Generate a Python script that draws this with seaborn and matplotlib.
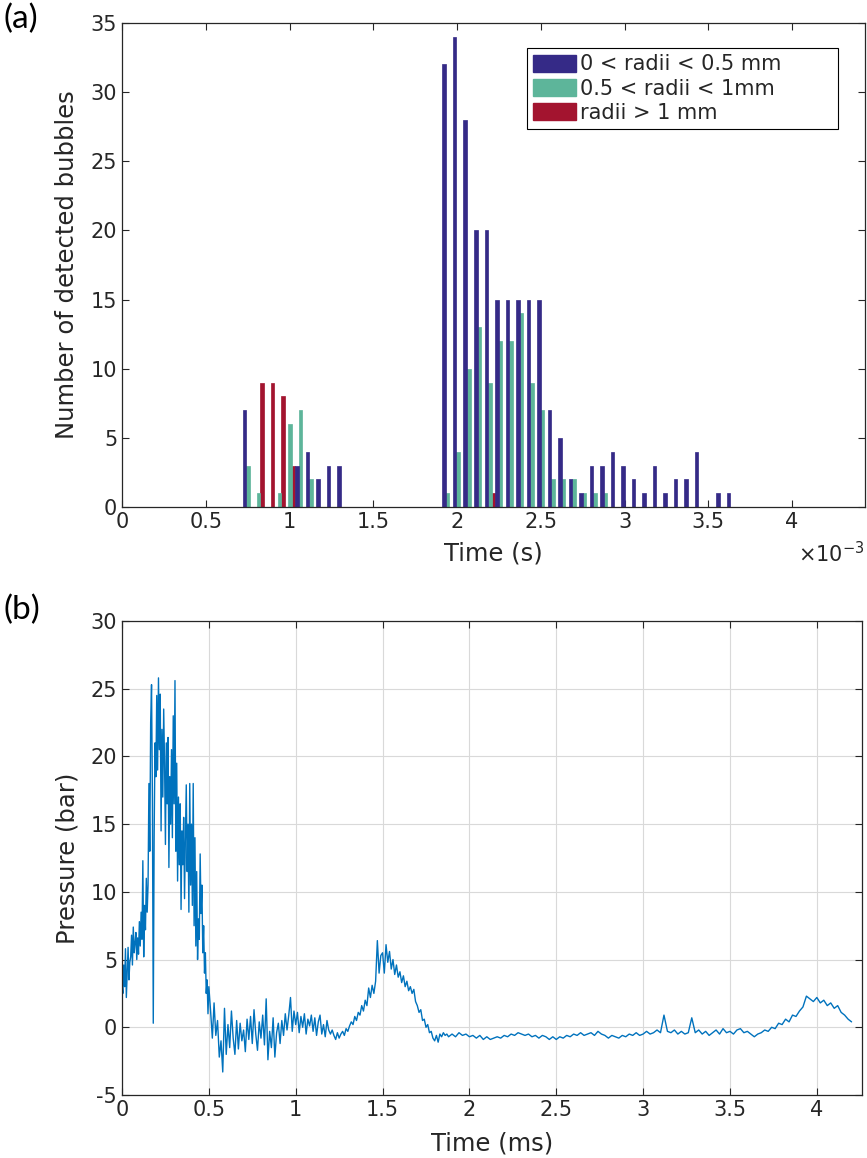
import numpy as np
import pandas as pd
import seaborn as sns
import matplotlib.pyplot as plt
from matplotlib.patches import Patch

# ---------------- panel (a): detected bubbles per time bin ----------------
bin_start = 0.751e-3      # centre of first bin (s)
bin_width = 0.0628e-3     # bin width (s)
n_bins = 47
small = [7, 0, 0, 0, 0, 3, 4, 2, 3, 3,
         0, 0, 0, 0, 0, 0, 0, 0, 0,
         32, 34, 28, 20, 20, 15, 15, 15, 15, 15,
         7, 5, 2, 1, 3, 3, 4, 3, 2, 1, 3, 1, 2, 2, 4, 0, 1, 1]
medium = [3, 1, 0, 1, 6, 7, 2, 0, 0, 0,
          0, 0, 0, 0, 0, 0, 0, 0, 0,
          1, 4, 10, 13, 9, 12, 12, 14, 9, 7,
          2, 2, 2, 1, 1, 1, 0, 0, 0, 0, 0, 0, 0, 0, 0, 0, 0, 0]
large = [0, 9, 9, 8, 3, 0, 0, 0, 0, 0,
         0, 0, 0, 0, 0, 0, 0, 0, 0,
         0, 0, 0, 0, 1, 0, 0, 0, 0, 0,
         0, 0, 0, 0, 0, 0, 0, 0, 0, 0, 0, 0, 0, 0, 0, 0, 0, 0]
radius_labels = ["0 < radii < 0.5 mm", "0.5 < radii < 1mm", "radii > 1 mm"]
radius_colors = ["#352A87", "#5DB59A", "#A3142F"]
top_ticks = [0, 0.5e-3, 1e-3, 1.5e-3, 2e-3, 2.5e-3, 3e-3, 3.5e-3, 4e-3]
top_ticklabels = ["0", "0.5", "1", "1.5", "2", "2.5", "3", "3.5", "4"]

# ---------------- panel (b): pressure signal (ms, bar) ----------------
p_early = [3.2, 2.5, 4.6, 3.0, 5.8, 2.2, 4.0, 5.9, 3.5, 4.8,
           5.2, 6.8, 4.6, 7.4, 5.5, 6.2, 7.0, 5.0, 6.6, 5.4,
           7.8, 6.0, 8.5, 6.5, 12.3, 5.2, 9.0, 7.2, 11.0, 8.5,
           10.5, 18.0, 13.0, 22.5, 25.3, 17.0, 0.3, 14.0, 21.0, 18.5,
           24.5, 19.0, 25.8, 20.5, 24.6, 14.5, 22.0, 17.0, 23.5, 19.5,
           13.5, 21.0, 16.5, 21.4, 11.8, 18.5, 15.0, 20.5, 14.0, 23.0,
           16.5, 25.6, 13.0, 19.5, 10.8, 17.0, 12.0, 16.5, 8.7, 14.5,
           12.0, 15.5, 9.5, 14.0, 17.9, 11.5, 15.0, 8.5, 18.0, 10.5,
           15.0, 9.0, 18.0, 7.5, 14.0, 6.0, 11.5, 5.0, 8.0, 6.5,
           12.8, 8.4, 10.5, 5.5, 7.5, 4.0, 5.5, 2.5, 3.5, 1.0]
p_mid = [3.0, 1.2, -0.8, 1.8, -0.6, 0.5, -2.2, -1.0, -3.3, 1.4,
         -2.0, 0.2, -1.5, 1.2, -0.8, -2.0, 0.5, -1.6, 0.3, -1.0,
         -0.2, -1.8, 0.6, -0.9, 0.8, -1.2, 1.3, -0.5, -1.7, 0.4,
         -0.8, 0.9, -1.3, 2.1, -2.4, -0.3, -1.5, 0.7, -2.2, -0.4,
         0.3, -1.2, 0.5, -0.6, 1.0, -0.2, 0.9, 2.2, -0.3, 1.2,
         0.2, 1.1, -0.4, 0.8, 0.0, 1.0, -0.5, 0.6, 0.1, 0.9,
         -0.3, 0.7, -0.6, 0.4, 0.9, -0.5, 0.2, -0.7, 0.5, -0.2,
         -0.5, -0.2, -0.6, -0.9, -0.4, -0.8, -0.5, -0.3, -0.6, -0.1,
         -0.3, 0.1, 0.4, 0.2, 0.8, 0.5, 1.1, 0.9, 1.6, 1.2,
         2.0, 1.6, 2.9, 2.2, 3.1, 2.5, 3.4, 6.4, 4.0, 5.3,
         5.5, 4.0, 6.1, 4.8, 5.6, 4.3, 5.0, 3.9, 4.6, 3.7,
         4.1, 3.3, 3.8, 3.0, 3.4, 2.7, 3.0, 2.5, 2.8, 1.9,
         1.6, 1.1, 1.3, 0.5, 0.6, 0.0, 0.2, -0.4, -0.3, -0.8,
         -1.0, -0.6, -1.1, -0.5, -0.7, -0.4, -0.6, -0.5, -0.7, -0.6]
p_late = [-0.5, -0.7, -0.4, -0.6, -0.5, -0.7, -0.6, -0.8, -0.6, -0.9,
          -0.7, -0.9, -0.8, -0.7, -0.8, -0.6, -0.7, -0.5, -0.6, -0.4,
          -0.5, -0.6, -0.5, -0.7, -0.6, -0.8, -0.6, -0.7, -0.9, -0.7,
          -0.9, -0.7, -0.8, -0.6, -0.7, -0.5, -0.6, -0.4, -0.6, -0.5,
          -0.4, -0.6, -0.3, -0.5, -0.6, -0.8, -0.6, -0.7, -0.8, -0.6,
          -0.7, -0.5, -0.6, -0.4, -0.6, -0.5, -0.3, -0.5, -0.4, -0.2,
          -0.4, 0.9, -0.3, -0.4, -0.2, -0.5, -0.3, -0.5, -0.4, 0.7,
          -0.4, -0.2, -0.5, -0.3, -0.6, -0.4, -0.2, -0.5, -0.1, -0.4,
          -0.3, -0.5, -0.2, -0.1, -0.4, -0.3, -0.5, -0.7, -0.5, -0.4,
          -0.2, -0.3, 0.0, -0.1, 0.3, 0.2, 0.6, 0.4, 0.9, 0.8,
          1.2, 1.5, 2.3, 2.1, 1.9, 2.2, 1.8, 2.0, 1.6, 1.8,
          1.4, 1.6, 1.1, 0.9, 0.6, 0.4]
t_early = np.linspace(0.0, 0.495, len(p_early))
t_mid = np.linspace(0.50, 1.89, len(p_mid))
t_late = np.linspace(1.90, 4.20, len(p_late))

# ---------------- style ----------------
sns.set_style("ticks")
plt.rcParams["font.family"] = ["DejaVu Sans"]
dark = "#262626"
plt.rcParams.update({
    "axes.edgecolor": dark, "axes.linewidth": 0.9,
    "axes.unicode_minus": False,
    "xtick.color": dark, "ytick.color": dark,
    "xtick.direction": "in", "ytick.direction": "in",
    "xtick.top": True, "ytick.right": True,
    "xtick.major.size": 5, "ytick.major.size": 5,
    "xtick.labelsize": 15, "ytick.labelsize": 15,
    "axes.labelcolor": dark,
})

fig = plt.figure(figsize=(8.67, 11.58), dpi=100)
ax1 = fig.add_axes([122 / 867, 1 - 507 / 1158, 743 / 867, 484 / 1158])
ax2 = fig.add_axes([122 / 867, 1 - 1095 / 1158, 740 / 867, 474 / 1158])

# ---- panel (a)
centers = bin_start + bin_width * np.arange(n_bins)
lo = bin_start - bin_width / 2
hi = lo + bin_width * n_bins
df = pd.DataFrame({
    "time": np.tile(centers, 3),
    "count": small + medium + large,
    "radius": np.repeat(radius_labels, n_bins),
})
sns.histplot(data=df, x="time", weights="count", hue="radius",
             hue_order=radius_labels, palette=radius_colors,
             multiple="dodge", binwidth=bin_width, binrange=(lo, hi),
             shrink=1, alpha=1, linewidth=0, legend=False, ax=ax1)
for bar in ax1.patches:
    bar.set_edgecolor(bar.get_facecolor())
    bar.set_linewidth(0.5)
ax1.set_xlim(0, 4.435e-3)
ax1.set_ylim(0, 35)
ax1.set_xticks(top_ticks)
ax1.set_xticklabels(top_ticklabels)
ax1.set_yticks(range(0, 36, 5))
ax1.set_xlabel("Time (s)", fontsize=17.5)
ax1.set_ylabel("Number of detected bubbles", fontsize=17.5)
ax1.xaxis.set_label_coords(0.5, -0.072)
ax1.yaxis.set_label_coords(-0.058, 0.5)
handles = [Patch(facecolor=c, edgecolor=c) for c in radius_colors]
leg = ax1.legend(handles, radius_labels, loc="upper left",
                 bbox_to_anchor=(0.545, 0.785, 0.4187, 0.163), mode="expand",
                 borderaxespad=0, fontsize=15, frameon=True, fancybox=False,
                 framealpha=1, edgecolor="black", handlelength=2.07,
                 handleheight=0.9, handletextpad=0.2, labelspacing=0.2,
                 borderpad=0.3)
leg.get_frame().set_linewidth(0.8)
fig.text(865 / 867, 1 - 562 / 1158, r"$\times\mathregular{10^{-3}}$",
         ha="right", va="baseline", fontsize=15, color=dark)

# ---- panel (b)
time_ms = np.concatenate([t_early, t_mid, t_late])
pressure = p_early + p_mid + p_late
sns.lineplot(x=time_ms, y=pressure, ax=ax2, color="#0072BD",
             linewidth=1.0, estimator=None, sort=False)
ax2.set_xlim(0, 4.26)
ax2.set_ylim(-5, 30)
ax2.set_xticks([0, 0.5, 1, 1.5, 2, 2.5, 3, 3.5, 4])
ax2.set_xticklabels(["0", "0.5", "1", "1.5", "2", "2.5", "3", "3.5", "4"])
ax2.set_yticks(range(-5, 31, 5))
ax2.grid(True, color="#d9d9d9", linewidth=0.8)
ax2.set_axisbelow(True)
ax2.set_xlabel("Time (ms)", fontsize=17.5)
ax2.set_ylabel("Pressure (bar)", fontsize=17.5)
ax2.xaxis.set_label_coords(0.5, -0.076)
ax2.yaxis.set_label_coords(-0.058, 0.5)

fig.text(0.004, 0.997, "(a)", ha="left", va="top", fontsize=24,
         family=["Lato", "DejaVu Sans"], color="black")
fig.text(0.004, 1 - 610 / 1158, "(b)", ha="left", va="center", fontsize=24,
         family=["Lato", "DejaVu Sans"], color="black")

fig.savefig("out.png", dpi=100)
